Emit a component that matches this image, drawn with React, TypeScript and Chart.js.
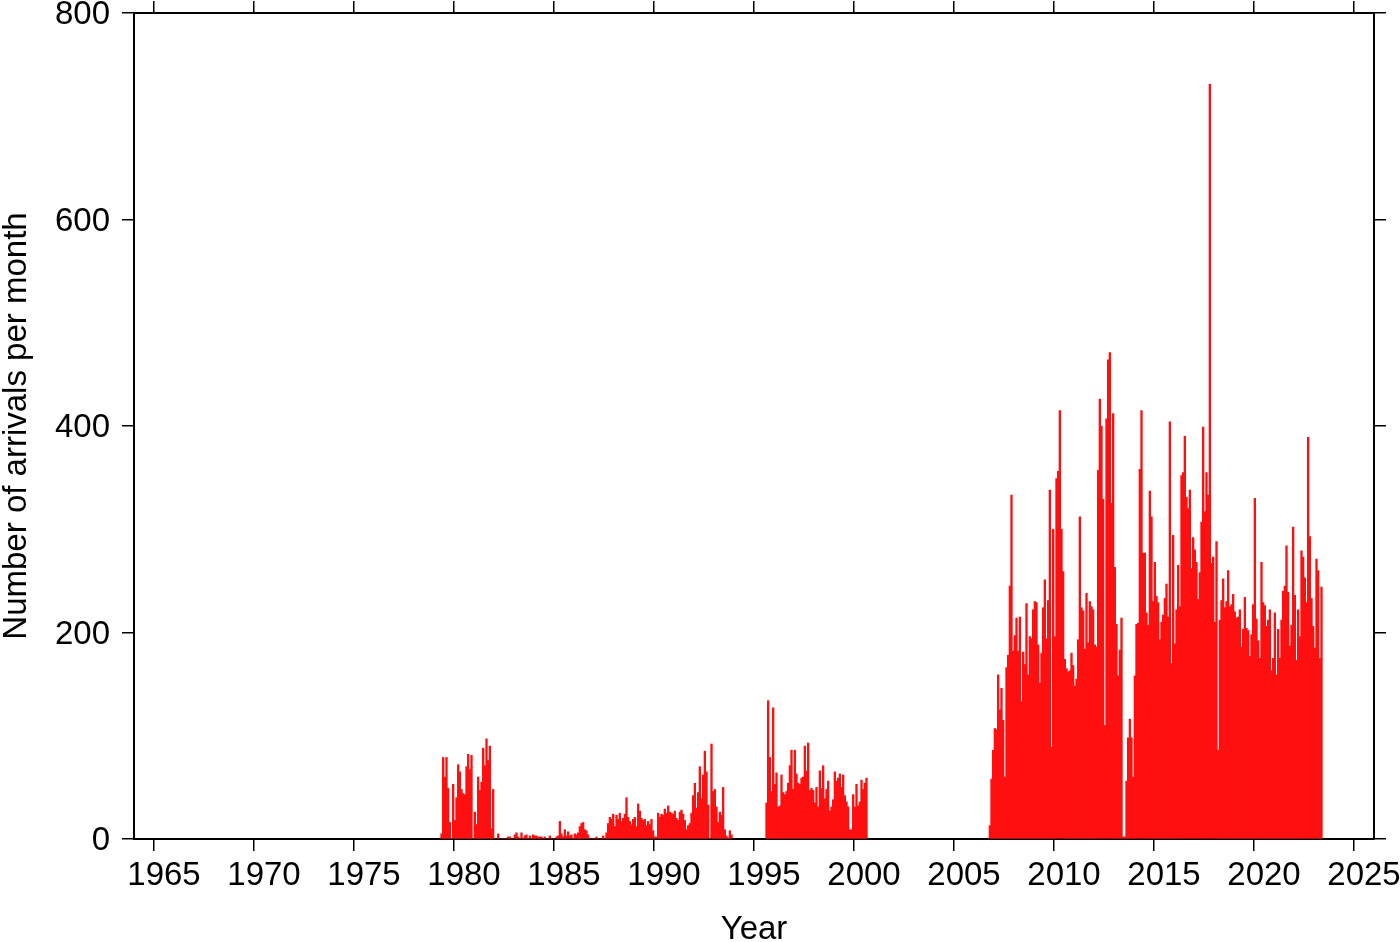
import React, { useEffect, useRef } from "react";
import { Chart, registerables } from "chart.js";

Chart.register(...registerables);

const FONT = "'Liberation Sans', Arial, Helvetica, sans-serif";

// Tick values
const xTickYears = [1965, 1970, 1975, 1980, 1985, 1990, 1995, 2000, 2005, 2010, 2015, 2020, 2025];
const yTickValues = [0, 200, 400, 600, 800];

// Monthly arrival counts, segment 1 (starting May 1979)
const start1979 = { year: 1979, month: 5 };
const counts1979 = [
  5, 79, 60, 79, 49, 16, 0, 53, 18, 40, 72, 65, 48, 44, 43, 70, 82, 67, 81, 0,
  26, 14, 60, 47, 55, 88, 71, 97, 76, 90, 10, 48, 0, 0, 5,
  0, 0, 0, 0, 0, 2, 2, 0, 0, 4, 6, 2, 0, 6, 0, 3, 4, 0, 3, 0,
  4, 3, 3, 2, 2, 2, 0, 2, 0, 0, 3, 0, 0, 0, 2, 3, 17, 5, 2, 9,
  3, 7, 3, 4, 0, 5, 4, 6, 12, 15, 16, 9, 8, 4, 0, 0, 0, 0, 2, 0,
  0, 0, 3, 0, 6, 15, 21, 19, 24, 12, 23, 19, 25, 17, 20, 24, 40, 21, 17, 14,
  19, 21, 12, 34, 27, 20, 18, 19, 13, 17, 14, 19, 8, 2, 2, 25, 21, 24, 23, 29,
  25, 32, 26, 25, 24, 27, 20, 18, 26, 28, 24, 18, 9, 13, 15, 25, 42, 54, 30, 45,
  70, 39, 62, 85, 65, 33, 0, 92, 46, 48, 31, 16, 26, 23, 50, 9, 3, 1, 8, 4,
];

// Segment 2 (starting August 1995)
const start1995 = { year: 1995, month: 8 };
const counts1995 = [
  35, 134, 79, 46, 127, 53, 64, 31, 32, 62, 45, 43, 46, 54, 71, 86, 48, 86, 63, 54,
  53, 59, 60, 90, 66, 93, 47, 49, 47, 35, 50, 31, 66, 49, 71, 39, 48, 56, 27, 31,
  38, 65, 56, 59, 63, 50, 62, 42, 36, 31, 9, 9, 43, 31, 53, 32, 36, 57, 48, 54, 59,
];

// Segment 3 (starting October 2006)
const start2006 = { year: 2006, month: 10 };
const counts2006 = [
  13, 58, 86, 107, 106, 159, 125, 146, 115, 60, 166, 178, 245, 333, 182, 197, 214, 182, 215, 133,
  181, 169, 228, 159, 196, 194, 222, 230, 229, 188, 151, 180, 224, 251, 194, 231, 338, 89, 300, 196,
  349, 356, 415, 300, 259, 174, 165, 162, 163, 180, 168, 148, 155, 193, 312, 224, 221, 184, 238, 190,
  230, 225, 222, 188, 186, 357, 426, 400, 329, 110, 407, 464, 471, 325, 412, 263, 208, 158, 183, 214,
  2, 2, 56, 98, 116,
  98, 60, 158, 208, 209, 358, 415, 277, 277, 219, 207, 337, 312, 230, 268, 235, 229, 193, 210, 217,
  233, 247, 215, 404, 170, 294, 189, 222, 265, 225, 352, 355, 390, 331, 320, 338, 262, 292,
  280, 268, 232, 258, 307, 399, 317, 355, 333, 731, 267, 273, 210, 288, 86, 212, 231, 252, 224, 230,
  260, 225, 227, 237, 220, 214, 215, 222, 186, 203, 234, 204, 202, 177, 198,
  227, 330, 213, 192, 175, 268, 229, 226, 206, 212, 222, 163, 175, 219, 159, 203, 175, 212, 240, 245,
  284, 239, 187, 207, 302, 236, 173, 222, 196, 279, 273, 253, 229, 389, 293, 233, 206, 185, 271, 260,
  175, 244,
];

const segments = [
  { start: start1979, counts: counts1979 },
  { start: start1995, counts: counts1995 },
  { start: start2006, counts: counts2006 },
];

function buildPoints() {
  const pts: { x: number; y: number }[] = [];
  segments.forEach((seg) => {
    seg.counts.forEach((v, i) => {
      pts.push({ x: seg.start.year + (seg.start.month - 1 + i + 0.5) / 12, y: v });
    });
  });
  return pts;
}

export default function App() {
  const ref = useRef<HTMLCanvasElement | null>(null);

  useEffect(() => {
    if (!ref.current) return;
    const tickFont = { family: FONT, size: 33 };
    const gridCfg = {
      display: true,
      drawOnChartArea: false,
      drawTicks: true,
      tickLength: 12,
      color: "#000",
      lineWidth: 1.5,
      offset: false,
    };
    const borderCfg = { display: true, color: "#000", width: 2 };
    const setXTicks = (s: any) => {
      s.ticks = xTickYears.map((v) => ({ value: v }));
    };
    const setYTicks = (s: any) => {
      s.ticks = yTickValues.map((v) => ({ value: v }));
    };
    const fixH = (h: number) => (s: any) => {
      s.height = h;
      s.paddingLeft = 0;
      s.paddingRight = 0;
      s.paddingTop = 0;
      s.paddingBottom = 0;
    };
    const fixW = (w: number) => (s: any) => {
      s.width = w;
      s.paddingLeft = 0;
      s.paddingRight = 0;
      s.paddingTop = 0;
      s.paddingBottom = 0;
    };

    const chart = new Chart(ref.current, {
      type: "bar",
      data: {
        datasets: [
          {
            data: buildPoints() as any,
            backgroundColor: "#ff1010",
            borderWidth: 0,
            barPercentage: 1,
            categoryPercentage: 1,
          },
        ],
      },
      options: {
        animation: false,
        responsive: false,
        devicePixelRatio: 1,
        layout: { padding: 0 },
        plugins: { legend: { display: false }, tooltip: { enabled: false } },
        scales: {
          x: {
            type: "linear",
            position: "bottom",
            min: 1964,
            max: 2026,
            offset: false,
            afterBuildTicks: setXTicks,
            afterFit: fixH(103),
            ticks: {
              callback: (v: any) => String(v),
              font: tickFont,
              color: "#000",
              padding: 5,
              labelOffset: 10,
              autoSkip: false,
              maxRotation: 0,
              minRotation: 0,
            },
            grid: gridCfg,
            border: borderCfg,
            title: {
              display: true,
              text: "Year",
              color: "#000",
              font: { family: FONT, size: 33, lineHeight: 0.75 },
              padding: 0,
            },
          },
          xTop: {
            type: "linear",
            axis: "x",
            position: "top",
            min: 1964,
            max: 2026,
            offset: false,
            afterBuildTicks: setXTicks,
            afterFit: fixH(13),
            ticks: { display: false },
            grid: gridCfg,
            border: borderCfg,
          },
          y: {
            type: "linear",
            position: "left",
            min: 0,
            max: 800,
            afterBuildTicks: setYTicks,
            afterFit: fixW(134),
            ticks: {
              callback: (v: any) => String(v),
              font: tickFont,
              color: "#000",
              padding: 12,
              labelOffset: 2,
            },
            grid: gridCfg,
            border: borderCfg,
            title: {
              display: true,
              text: "Number of arrivals per month",
              color: "#000",
              font: { family: FONT, size: 33, lineHeight: 1 },
              padding: 0,
            },
          },
          yRight: {
            type: "linear",
            axis: "y",
            position: "right",
            min: 0,
            max: 800,
            afterBuildTicks: setYTicks,
            afterFit: fixW(26),
            ticks: { display: false },
            grid: gridCfg,
            border: borderCfg,
          },
        },
      } as any,
    });
    return () => chart.destroy();
  }, []);

  return (
    <div style={{ position: "fixed", left: 0, top: 0, width: 1400, height: 942, background: "#fff" }}>
      <canvas ref={ref} width={1400} height={942} style={{ display: "block" }} />
    </div>
  );
}
